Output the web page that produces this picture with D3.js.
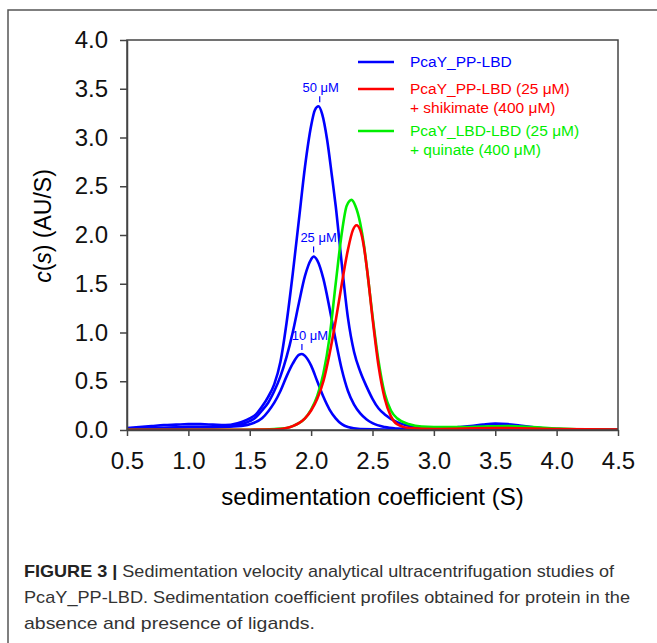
<!DOCTYPE html>
<html lang="en">
<head>
<meta charset="UTF-8">
<title>Sedimentation velocity AUC</title>
<script src="https://d3js.org/d3.v7.min.js"></script>
<style>
    body { margin: 0; background: #fff; }
    text { font-family: "Liberation Sans", Arial, sans-serif; }
    .axis path, .axis line { stroke: #444; stroke-width: 1.5px; }
    .axis text { font-size: 24px; fill: #111; }
    .curve { fill: none; stroke-width: 2.6px; stroke-linejoin: round; }
</style>
</head>
<body>
<svg width="657" height="643"></svg>
<script>

// c(s) profiles, [s, c(s)]
var blue50 = [[0.5,0.02],[0.6,0.03],[0.7,0.04],[0.8,0.05],[0.9,0.055],[1.0,0.06],[1.1,0.06],[1.2,0.055],[1.3,0.05],
    [1.4,0.07],[1.45,0.09],[1.5,0.12],[1.55,0.16],[1.6,0.24],[1.65,0.34],[1.7,0.47],[1.75,0.7],[1.8,1.1],[1.85,1.6],
    [1.9,2.15],[1.95,2.7],[2.0,3.12],[2.03,3.28],[2.06,3.32],[2.09,3.24],[2.13,2.98],[2.17,2.6],[2.2,2.3],[2.25,1.7],
    [2.3,1.15],[2.35,0.8],[2.4,0.6],[2.45,0.45],[2.5,0.32],[2.55,0.22],[2.6,0.16],[2.7,0.08],[2.8,0.04],[2.9,0.025],
    [3.0,0.02],[3.1,0.02],[3.2,0.03],[3.3,0.04],[3.4,0.055],[3.5,0.065],[3.6,0.06],[3.7,0.045],[3.8,0.03],[3.9,0.015],
    [4.0,0.01],[4.2,0.005],[4.5,0.005]];

var blue25 = [[0.5,0.01],[0.8,0.02],[1.0,0.03],[1.2,0.03],[1.4,0.05],[1.5,0.09],[1.55,0.13],[1.6,0.2],[1.65,0.28],
    [1.7,0.4],[1.75,0.55],[1.8,0.75],[1.85,1.0],[1.9,1.3],[1.95,1.58],[2.0,1.75],[2.02,1.78],[2.05,1.74],[2.1,1.55],
    [2.15,1.25],[2.2,0.92],[2.25,0.62],[2.3,0.4],[2.35,0.26],[2.4,0.17],[2.45,0.11],[2.5,0.07],[2.6,0.03],[2.7,0.015],
    [2.8,0.01],[3.0,0.01],[3.3,0.015],[3.5,0.02],[3.7,0.015],[4.0,0.005],[4.5,0.003]];

var blue10 = [[0.5,0.01],[0.8,0.02],[1.0,0.03],[1.2,0.03],[1.4,0.04],[1.5,0.06],[1.6,0.12],[1.65,0.19],[1.7,0.28],
    [1.75,0.4],[1.8,0.55],[1.85,0.68],[1.9,0.77],[1.925,0.78],[1.95,0.76],[2.0,0.66],[2.05,0.5],[2.1,0.34],[2.15,0.21],
    [2.2,0.12],[2.25,0.06],[2.3,0.03],[2.4,0.01],[2.6,0.005],[3.0,0.005],[3.5,0.01],[4.0,0.003],[4.5,0.002]];

var redShik = [[0.5,0.003],[1.0,0.003],[1.5,0.003],[1.7,0.005],[1.75,0.01],[1.8,0.02],[1.85,0.04],[1.9,0.07],
    [1.95,0.12],[2.0,0.2],[2.05,0.32],[2.1,0.5],[2.15,0.78],[2.2,1.12],[2.25,1.5],[2.3,1.85],[2.34,2.05],[2.37,2.1],
    [2.4,2.05],[2.43,1.88],[2.46,1.6],[2.5,1.15],[2.55,0.65],[2.6,0.32],[2.65,0.14],[2.7,0.06],[2.8,0.02],[3.0,0.01],
    [3.5,0.02],[4.0,0.01],[4.5,0.005]];

var greenQuin = [[0.5,0.003],[1.0,0.003],[1.5,0.003],[1.7,0.01],[1.8,0.02],[1.85,0.04],[1.9,0.07],[1.95,0.12],
    [2.0,0.21],[2.05,0.35],[2.1,0.58],[2.15,0.95],[2.2,1.5],[2.25,2.02],[2.29,2.3],[2.33,2.36],[2.36,2.3],[2.4,2.12],
    [2.43,1.9],[2.46,1.6],[2.5,1.17],[2.55,0.7],[2.6,0.37],[2.65,0.2],[2.7,0.12],[2.8,0.06],[2.9,0.035],[3.0,0.03],
    [3.2,0.03],[3.4,0.035],[3.6,0.04],[3.8,0.03],[4.0,0.015],[4.2,0.005],[4.5,0.002]];

var xTicks = [0.5, 1.0, 1.5, 2.0, 2.5, 3.0, 3.5, 4.0, 4.5];
var yTicks = [0, 0.5, 1.0, 1.5, 2.0, 2.5, 3.0, 3.5, 4.0];

// label, s at the marker, peak height, label shift in px
var peakLabels = [["50 \u03bcM", 2.07, 3.32, 1], ["25 \u03bcM", 2.02, 1.78, 5], ["10 \u03bcM", 1.925, 0.78, 8]];

var legendItems = [
    {color: "#0000ff", lines: ["PcaY_PP-LBD"]},
    {color: "#ff0000", lines: ["PcaY_PP-LBD (25 \u03bcM)", "+ shikimate (400 \u03bcM)"]},
    {color: "#00ee00", lines: ["PcaY_LBD-LBD (25 \u03bcM)", "+ quinate (400 \u03bcM)"]}
];

var captionLines = [
    ["FIGURE 3 | ", "Sedimentation velocity analytical ultracentrifugation studies of"],
    ["", "PcaY_PP-LBD. Sedimentation coefficient profiles obtained for protein in the"],
    ["", "absence and presence of ligands."]
];

var svg = d3.select("svg");

// outer figure frame (runs off the right and bottom edges)
svg.append("path")
    .attr("d", "M8,700 L8,10 L700,10")
    .attr("fill", "none")
    .attr("stroke", "#555")
    .attr("stroke-width", 1.5);

var pL = 127, pR = 618, pT = 40, pB = 430;

var x = d3.scaleLinear().domain([0.5, 4.5]).range([pL, pR]);
var y = d3.scaleLinear().domain([0, 4]).range([pB, pT]);

svg.append("defs").append("clipPath").attr("id", "plot")
    .append("rect").attr("x", pL).attr("y", pT - 5)
    .attr("width", pR - pL).attr("height", pB - pT + 5);

var line = d3.line()
    .x(function(d) { return x(d[0]); })
    .y(function(d) { return y(d[1]); })
    .curve(d3.curveMonotoneX);

var curves = svg.append("g").attr("clip-path", "url(#plot)");
[blue50, blue25, blue10].forEach(function(s) {
    curves.append("path").attr("class", "curve").attr("stroke", "#0000ff").attr("d", line(s));
});
curves.append("path").attr("class", "curve").attr("stroke", "#00ee00").attr("d", line(greenQuin));
curves.append("path").attr("class", "curve").attr("stroke", "#ff0000").attr("d", line(redShik));

// frame of the plot
svg.append("rect")
    .attr("x", pL).attr("y", pT)
    .attr("width", pR - pL).attr("height", pB - pT)
    .attr("fill", "none").attr("stroke", "#444").attr("stroke-width", 1.5);

svg.append("g")
    .attr("class", "axis")
    .attr("transform", "translate(0," + pB + ")")
    .call(d3.axisBottom(x).tickValues(xTicks).tickFormat(d3.format(".1f"))
        .tickSize(6).tickSizeOuter(0).tickPadding(16));

svg.append("g")
    .attr("class", "axis")
    .attr("transform", "translate(" + pL + ",0)")
    .call(d3.axisLeft(y).tickValues(yTicks).tickFormat(d3.format(".1f"))
        .tickSize(7).tickSizeOuter(0).tickPadding(12));

// axis titles
svg.append("text")
    .attr("x", (pL + pR) / 2).attr("y", 505)
    .attr("text-anchor", "middle")
    .style("font-size", "24px")
    .text("sedimentation coefficient (S)");

var ylab = svg.append("text")
    .attr("transform", "translate(51,226) rotate(-90)")
    .attr("text-anchor", "middle")
    .style("font-size", "23px");
ylab.append("tspan").style("font-style", "italic").text("c");
ylab.append("tspan").text("(");
ylab.append("tspan").style("font-style", "italic").text("s");
ylab.append("tspan").text(") (AU/S)");

// peak annotations
peakLabels.forEach(function(p) {
    var px = x(p[1]), py = y(p[2]);
    svg.append("line")
        .attr("x1", px).attr("x2", px).attr("y1", py - 10).attr("y2", py - 4)
        .attr("stroke", "#0000ff").attr("stroke-width", 1.2);
    svg.append("text")
        .attr("x", px + p[3]).attr("y", py - 14)
        .attr("text-anchor", "middle")
        .style("font-size", "13px").style("fill", "#0000ff")
        .text(p[0]);
});

// legend
var legY = [62, 89, 131];
legendItems.forEach(function(item, i) {
    svg.append("line")
        .attr("x1", 358).attr("x2", 394).attr("y1", legY[i]).attr("y2", legY[i])
        .attr("stroke", item.color).attr("stroke-width", 2.6);
    item.lines.forEach(function(t, j) {
        svg.append("text")
            .attr("x", 410).attr("y", legY[i] + 5 + j * 19)
            .style("font-size", "15.5px").style("fill", item.color)
            .text(t);
    });
});

// caption
var capW = [590, 606, 291];
captionLines.forEach(function(c, i) {
    var t = svg.append("text")
        .attr("x", 24).attr("y", 577 + i * 26)
        .style("font-size", "17px").style("fill", "#333")
        .attr("textLength", capW[i]).attr("lengthAdjust", "spacingAndGlyphs");
    if (c[0]) t.append("tspan").style("font-weight", "bold").style("fill", "#222").text(c[0]);
    t.append("tspan").text(c[1]);
});

</script>
</body>
</html>
